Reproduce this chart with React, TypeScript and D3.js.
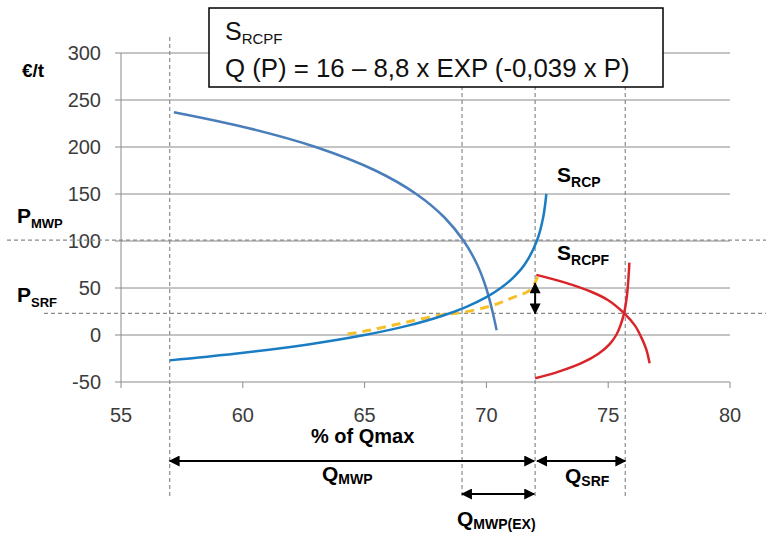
import React from "react";
import * as d3 from "d3";

// ---- data ----
const xTicks = [55, 60, 65, 70, 75, 80];
const yTicks = [-50, 0, 50, 100, 150, 200, 250, 300];

// Demand curve (Q %, P €/t)
const demandQ = [57.17, 60.25, 62.99, 65.44, 67.12, 68.28, 69.07, 69.62, 69.99, 70.25, 70.42];
const demandP = [237, 220, 200, 175, 150, 125, 100, 75, 50, 25, 5];

// S_RCP supply curve
const srcpQ = [57.0, 59.67, 62.68, 65.0, 66.78, 68.14, 69.18, 69.98, 70.59, 71.06, 71.57, 72.07, 72.33, 72.46];
const srcpP = [-27, -20, -10, 0, 10, 20, 30, 40, 50, 60, 75, 100, 125, 150];

// Yellow dashed (shifted supply)
const yellowQ = [64.3, 65.2, 66.6, 68.1, 69.0, 70.2, 71.0, 71.8, 72.1];
const yellowP = [1, 5, 13, 21, 24, 31, 39, 48, 62];

// Red decreasing (residual demand)
const redDemQ = [72.05, 73.2, 74.3, 75.0, 75.66, 76.1, 76.35, 76.56, 76.7];
const redDemP = [64, 56, 46, 37, 23, 10, -2, -15, -30];

// Red increasing (S_RCPF)
const redSupQ = [72.0, 72.85, 73.9, 74.6, 75.05, 75.33, 75.5, 75.65, 75.76, 75.83, 75.87];
const redSupP = [-46, -40, -30, -20, -10, 0, 10, 23, 40, 60, 77];

// reference lines
const vRefQ = [57, 69, 72, 75.7];
const hRefP = [101, 23];
const hRefLabels = [
  { main: "P", sub: "MWP" },
  { main: "P", sub: "SRF" },
];
const priceGap = [23, 55]; // double arrow at Q = 72
const gapQ = 72;

const formulaTitle = { main: "S", sub: "RCPF" };
const formulaText = "Q (P) = 16 – 8,8 x EXP (-0,039 x P)";

const W = 766;
const H = 536;

const x = d3.scaleLinear().domain([55, 80]).range([121, 730]);
const y = d3.scaleLinear().domain([-50, 300]).range([382, 53]);

const toPts = (qs: number[], ps: number[]) => qs.map((q, i) => [q, ps[i]] as [number, number]);
const line = d3
  .line<[number, number]>()
  .x((d) => x(d[0]))
  .y((d) => y(d[1]))
  .curve(d3.curveCatmullRom.alpha(0.5));

const FONT = "'Liberation Sans', Arial, sans-serif";

function Sub({ x0, y0, main, sub, size, subSize, weight = "bold", fill = "#000", dy = 5 }: any) {
  return (
    <text x={x0} y={y0} fontFamily={FONT} fontWeight={weight} fill={fill} fontSize={size}>
      <tspan>{main}</tspan>
      <tspan fontSize={subSize} dy={dy}>
        {sub}
      </tspan>
    </text>
  );
}

export default function App() {
  const gridColor = "#8a8a8a";
  const dashColor = "#8a8a8a";
  return (
    <svg
      width={W}
      height={H}
      style={{ position: "absolute", left: 0, top: 0, background: "#fff" }}
      fontFamily={FONT}
    >
      <defs>
        <marker id="ah" viewBox="0 0 10 10" refX="9" refY="5" markerWidth="6" markerHeight="5.5" orient="auto-start-reverse" markerUnits="strokeWidth">
          <path d="M0,0 L10,5 L0,10 z" fill="#000" />
        </marker>
      </defs>

      {/* horizontal gridlines */}
      {yTicks.map((t) => (
        <line key={"g" + t} x1={115} x2={x(80)} y1={y(t)} y2={y(t)} stroke={gridColor} strokeWidth={1} />
      ))}
      {/* y axis */}
      <line x1={x(55)} x2={x(55)} y1={y(300)} y2={y(-50)} stroke={gridColor} strokeWidth={1} />
      {/* x ticks */}
      {xTicks.map((t) => (
        <line key={"xt" + t} x1={x(t)} x2={x(t)} y1={y(-50)} y2={y(-50) + 6} stroke={gridColor} strokeWidth={1} />
      ))}

      {/* y tick labels */}
      {yTicks.map((t) => (
        <text key={"yl" + t} x={101} y={y(t) + 7} textAnchor="end" fontSize={20} fill="#3c3c3c">
          {t}
        </text>
      ))}
      {/* x tick labels */}
      {xTicks.map((t) => (
        <text key={"xl" + t} x={x(t)} y={422} textAnchor="middle" fontSize={20} fill="#3c3c3c">
          {t}
        </text>
      ))}

      {/* reference dashed lines */}
      {vRefQ.map((q) => (
        <line key={"v" + q} x1={x(q)} x2={x(q)} y1={37} y2={498} stroke={dashColor} strokeWidth={1.2} strokeDasharray="4,3" />
      ))}
      <line x1={7} x2={W} y1={y(hRefP[0])} y2={y(hRefP[0])} stroke={dashColor} strokeWidth={1.2} strokeDasharray="4,3" />
      <line x1={44} x2={W} y1={y(hRefP[1])} y2={y(hRefP[1])} stroke={dashColor} strokeWidth={1.2} strokeDasharray="4,3" />

      {/* curves */}
      <path d={line(toPts(demandQ, demandP)) || ""} fill="none" stroke="#4a7ebb" strokeWidth={2.5} />
      <path d={line(toPts(yellowQ, yellowP)) || ""} fill="none" stroke="#f5c02a" strokeWidth={3} strokeDasharray="9,6" />
      <path d={line(toPts(srcpQ, srcpP)) || ""} fill="none" stroke="#1a7dc4" strokeWidth={2.5} />
      <path d={line(toPts(redDemQ, redDemP)) || ""} fill="none" stroke="#d9252a" strokeWidth={2.5} />
      <path d={line(toPts(redSupQ, redSupP)) || ""} fill="none" stroke="#d9252a" strokeWidth={2.5} />

      {/* price gap double arrow */}
      <line
        x1={x(gapQ)}
        x2={x(gapQ)}
        y1={y(priceGap[0])}
        y2={y(priceGap[1])}
        stroke="#000"
        strokeWidth={2}
        markerStart="url(#ah)"
        markerEnd="url(#ah)"
      />

      {/* formula box */}
      <rect x={209} y={8} width={454} height={79} fill="#fff" stroke="#000" strokeWidth={1.5} />
      <Sub x0={225} y0={40} main={formulaTitle.main} sub={formulaTitle.sub} size={25} subSize={15} weight="normal" fill="#111" dy={4} />
      <text x={225} y={77} fontSize={25.8} fill="#111">
        {formulaText}
      </text>

      {/* axis labels */}
      <text x={22} y={77} fontSize={19} fontWeight="bold">
        €/t
      </text>
      <text x={311} y={443} fontSize={20} fontWeight="bold">
        % of Qmax
      </text>

      {/* P labels */}
      <Sub x0={17} y0={223} main={hRefLabels[0].main} sub={hRefLabels[0].sub} size={21} subSize={13} />
      <Sub x0={17} y0={302} main={hRefLabels[1].main} sub={hRefLabels[1].sub} size={21} subSize={13} />

      {/* curve labels */}
      <Sub x0={557} y0={182} main="S" sub="RCP" size={21} subSize={14} />
      <Sub x0={557} y0={260} main="S" sub="RCPF" size={21} subSize={14} />

      {/* quantity arrows */}
      <line x1={x(57)} x2={x(72) - 1} y1={461} y2={461} stroke="#000" strokeWidth={2} markerStart="url(#ah)" markerEnd="url(#ah)" />
      <line x1={x(72) + 2} x2={x(75.7)} y1={461} y2={461} stroke="#000" strokeWidth={2} markerStart="url(#ah)" markerEnd="url(#ah)" />
      <line x1={x(69)} x2={x(72) - 1} y1={494} y2={494} stroke="#000" strokeWidth={2} markerStart="url(#ah)" markerEnd="url(#ah)" />

      <Sub x0={322} y0={481} main="Q" sub="MWP" size={21} subSize={14} dy={3} />
      <Sub x0={565} y0={483} main="Q" sub="SRF" size={21} subSize={14} dy={3} />
      <Sub x0={457} y0={526} main="Q" sub="MWP(EX)" size={21} subSize={14} dy={3} />
    </svg>
  );
}
